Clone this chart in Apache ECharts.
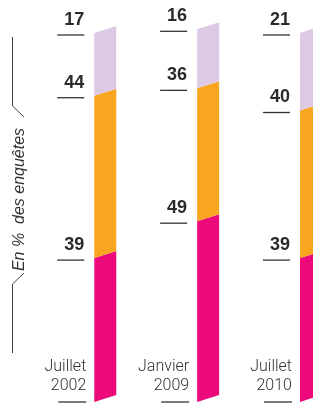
<!DOCTYPE html>
<html>
<head>
<meta charset="utf-8">
<script src="https://cdn.jsdelivr.net/npm/echarts@6/dist/echarts.min.js"></script>
<style>
html,body{margin:0;padding:0;background:#fff;}
#chart{width:313px;height:419px;}
</style>
</head>
<body>
<div id="chart"></div>
<script>
// Data
var categories = ['Juillet\n2002', 'Janvier\n2009', 'Juillet\n2010'];
var bottomSeg = [39, 49, 39];   // pink
var middleSeg = [44, 36, 40];   // orange
var topSeg    = [17, 16, 21];   // lilac
var yTitle = 'En %  des enquêtes';

var colors = { bottom: '#ec0a7b', middle: '#f8a51f', top: '#ddc9e4' };
var BAR_W = 22, SLANT = 7;
var TEXT_COLOR = '#2b2b2b';

function buildData(segIdx) {
  return categories.map(function (c, i) {
    var b = bottomSeg[i], m = middleSeg[i], t = topSeg[i];
    if (segIdx === 0) return [i, 0, b];
    if (segIdx === 1) return [i, b, b + m];
    return [i, b + m, b + m + t];
  });
}

function makeRender(color, withCategory) {
  return function (params, api) {
    var ci = api.value(0), s = api.value(1), e = api.value(2);
    var p0 = api.coord([ci, s]);
    var p1 = api.coord([ci, e]);
    var xl = p0[0] - BAR_W / 2, xr = p0[0] + BAR_W / 2;
    var children = [
      {
        type: 'polygon',
        shape: { points: [[xl, p0[1]], [xl, p1[1]], [xr, p1[1] - SLANT], [xr, p0[1] - SLANT]] },
        style: { fill: color }
      },
      {
        type: 'line',
        shape: { x1: xl - 37, y1: p1[1] + 2, x2: xl - 10, y2: p1[1] + 2 },
        style: { stroke: '#333', lineWidth: 1.3 }
      },
      {
        type: 'text',
        style: {
          x: xl - 10, y: p1[1] + 2 - 15,
          text: String(e - s),
          align: 'right', verticalAlign: 'middle',
          font: 'bold 18px "Liberation Sans", Arial, sans-serif',
          fill: TEXT_COLOR
        }
      }
    ];
    if (withCategory) {
      children.push({
        type: 'line',
        shape: { x1: xl - 36, y1: p0[1], x2: xl - 8, y2: p0[1] },
        style: { stroke: '#333', lineWidth: 1.3 }
      });
      children.push({
        type: 'text',
        style: {
          x: xl - 8, y: p0[1] - 7,
          text: categories[ci],
          align: 'right', verticalAlign: 'bottom',
          lineHeight: 19,
          font: '300 16px Roboto, "Liberation Sans", sans-serif',
          fill: '#333'
        }
      });
    }
    return { type: 'group', children: children };
  };
}

var chart = echarts.init(document.getElementById('chart'), null, { renderer: 'canvas' });
chart.setOption({
  backgroundColor: '#fff',
  animation: false,
  grid: { left: 54, right: 0, top: 33, bottom: 17, containLabel: false },
  xAxis: {
    type: 'value', min: -0.4985, max: 2.0195,
    axisLine: { show: false }, axisTick: { show: false }, axisLabel: { show: false }, splitLine: { show: false }
  },
  yAxis: {
    type: 'value', min: 0, max: 100,
    axisLine: { show: false }, axisTick: { show: false }, axisLabel: { show: false }, splitLine: { show: false }
  },
  graphic: [
    {
      type: 'polyline', silent: true,
      shape: { points: [[12.5, 37], [12.5, 106], [24, 117]] },
      style: { stroke: '#444', lineWidth: 1, fill: null }
    },
    {
      type: 'polyline', silent: true,
      shape: { points: [[24, 273], [12.5, 284], [12.5, 353]] },
      style: { stroke: '#444', lineWidth: 1, fill: null }
    },
    {
      type: 'text', silent: true,
      x: 19.5, y: 199.5, rotation: Math.PI / 2,
      style: {
        text: yTitle,
        align: 'center', verticalAlign: 'middle',
        font: 'italic 16px "Liberation Sans", Arial, sans-serif',
        fill: '#333'
      }
    }
  ],
  series: [
    { type: 'custom', name: 'bas', clip: false, renderItem: makeRender(colors.bottom, true), data: buildData(0), encode: { x: 0, y: [1, 2] } },
    { type: 'custom', name: 'milieu', clip: false, renderItem: makeRender(colors.middle, false), data: buildData(1), encode: { x: 0, y: [1, 2] } },
    { type: 'custom', name: 'haut', clip: false, renderItem: makeRender(colors.top, false), data: buildData(2), encode: { x: 0, y: [1, 2] } }
  ]
});
</script>
</body>
</html>
